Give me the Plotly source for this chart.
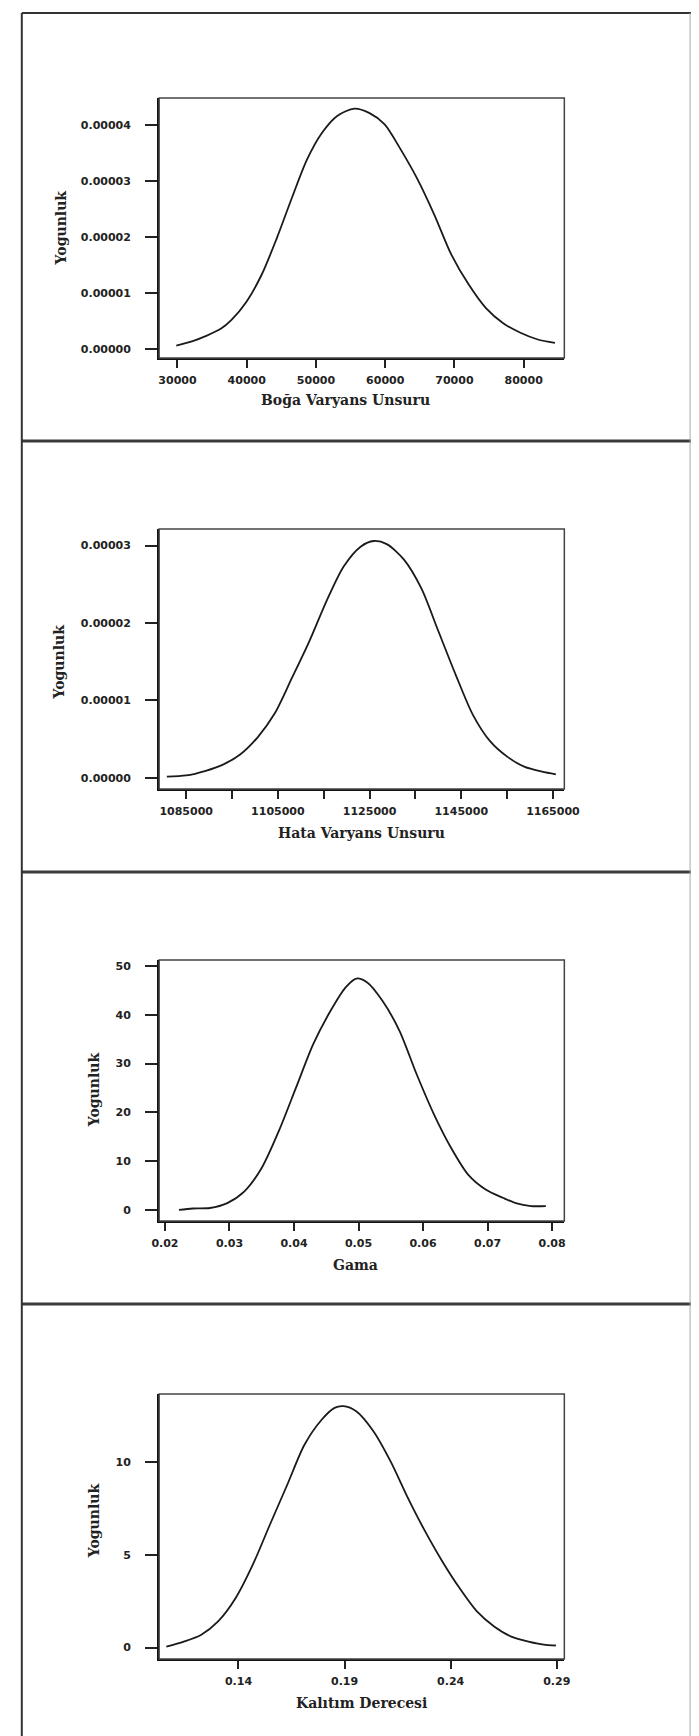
import plotly.graph_objects as go

W, H = 699, 1736

# ---- data ----
boga_x = [29830, 32200, 34060, 36250, 37800, 39990, 42170, 44350, 46530, 48700, 50880, 53060,
          55560, 57740, 59920, 62100, 64580, 67080, 69570, 72060, 74550, 77040, 79530, 82030, 84510]
boga_y = [0.06e-5, 0.14e-5, 0.23e-5, 0.36e-5, 0.52e-5, 0.85e-5, 1.33e-5, 1.98e-5, 2.70e-5, 3.38e-5,
          3.86e-5, 4.16e-5, 4.29e-5, 4.21e-5, 4.01e-5, 3.59e-5, 3.05e-5, 2.40e-5, 1.68e-5, 1.15e-5,
          0.73e-5, 0.46e-5, 0.29e-5, 0.17e-5, 0.11e-5]

hata_x = [1080780, 1085000, 1089260, 1093020, 1096770, 1100550, 1104300, 1108070, 1111830, 1115590,
          1119350, 1123120, 1125930, 1128750, 1132510, 1136280, 1140040, 1143800, 1147570, 1151330,
          1155090, 1158860, 1162620, 1165640]
hata_y = [0.015e-5, 0.03e-5, 0.09e-5, 0.17e-5, 0.30e-5, 0.52e-5, 0.83e-5, 1.29e-5, 1.76e-5, 2.28e-5,
          2.73e-5, 2.99e-5, 3.06e-5, 3.02e-5, 2.82e-5, 2.45e-5, 1.89e-5, 1.33e-5, 0.81e-5, 0.47e-5,
          0.27e-5, 0.14e-5, 0.08e-5, 0.045e-5]

gama_x = [0.02217, 0.02431, 0.02698, 0.02966, 0.03232, 0.03499, 0.03766, 0.04033, 0.04300, 0.04567,
          0.04800, 0.04967, 0.05135, 0.05368, 0.05635, 0.05901, 0.06169, 0.06436, 0.06702, 0.06970,
          0.07237, 0.07437, 0.07671, 0.07904]
gama_y = [0, 0.3, 0.4, 1.4, 3.8, 8.6, 16.2, 25.1, 34.0, 40.8, 45.6, 47.4, 46.6, 42.9, 36.7, 27.8,
          19.6, 12.7, 7.2, 4.2, 2.5, 1.4, 0.8, 0.8]

kalitim_x = [0.1060, 0.1142, 0.1223, 0.1304, 0.1386, 0.1467, 0.1548, 0.1630, 0.1711, 0.1792, 0.1853,
             0.1894, 0.1955, 0.2036, 0.2117, 0.2199, 0.2280, 0.2361, 0.2442, 0.2524, 0.2605, 0.2686,
             0.2767, 0.2849, 0.2896]
kalitim_y = [0.05, 0.32, 0.68, 1.41, 2.66, 4.46, 6.63, 8.79, 10.95, 12.30, 12.94, 13.03, 12.76, 11.68,
             10.05, 8.07, 6.27, 4.65, 3.21, 1.95, 1.14, 0.59, 0.32, 0.14, 0.11]

# tick values / labels
p1_xticks = [30000, 40000, 50000, 60000, 70000, 80000]
p1_xlabels = ["30000", "40000", "50000", "60000", "70000", "80000"]
p1_yticks = [0, 1e-5, 2e-5, 3e-5, 4e-5]
p1_ylabels = ["0.00000", "0.00001", "0.00002", "0.00003", "0.00004"]

p2_xticks = [1085000, 1095000, 1105000, 1115000, 1125000, 1135000, 1145000, 1155000, 1165000]
p2_xlabels = ["1085000", "", "1105000", "", "1125000", "", "1145000", "", "1165000"]
p2_yticks = [0, 1e-5, 2e-5, 3e-5]
p2_ylabels = ["0.00000", "0.00001", "0.00002", "0.00003"]

p3_xticks = [0.02, 0.03, 0.04, 0.05, 0.06, 0.07, 0.08]
p3_xlabels = ["0.02", "0.03", "0.04", "0.05", "0.06", "0.07", "0.08"]
p3_yticks = [0, 10, 20, 30, 40, 50]
p3_ylabels = ["0", "10", "20", "30", "40", "50"]

p4_xticks = [0.14, 0.19, 0.24, 0.29]
p4_xlabels = ["0.14", "0.19", "0.24", "0.29"]
p4_yticks = [0, 5, 10]
p4_ylabels = ["0", "5", "10"]

x_titles = ["Boğa Varyans Unsuru", "Hata Varyans Unsuru", "Gama", "Kalıtım Derecesi"]
y_title = "Yogunluk"

# ---- layout geometry (pixels) ----
box_left, box_right = 148, 567
boxes = [(90, 350), (521, 781), (952, 1213), (1386, 1651)]
ranges = [
    ([27350, 85870], [-0.16e-5, 4.48e-5]),
    ([1079100, 1167490], [-0.145e-5, 3.215e-5]),
    ([0.0191, 0.0819], [-2.26, 51.2]),
    ([0.1026, 0.2936], [-0.62, 13.69]),
]
xtitle_pos = [(341, 392), (357, 825), (351, 1257), (357, 1695)]
ytitle_pos = [(47, 220), (44, 654), (81, 1082), (81, 1513)]

series = [(boga_x, boga_y), (hata_x, hata_y), (gama_x, gama_y), (kalitim_x, kalitim_y)]
ticks = [(p1_xticks, p1_xlabels, p1_yticks, p1_ylabels),
         (p2_xticks, p2_xlabels, p2_yticks, p2_ylabels),
         (p3_xticks, p3_xlabels, p3_yticks, p3_ylabels),
         (p4_xticks, p4_xlabels, p4_yticks, p4_ylabels)]

tick_font = dict(family="DejaVu Sans", size=11, color="#222", weight="bold")
title_font = dict(family="DejaVu Serif", size=14, color="#222", weight="bold")

fig = go.Figure()
layout = dict(width=W, height=H, margin=dict(l=0, r=0, t=0, b=0),
              paper_bgcolor="white", plot_bgcolor="white", showlegend=False)
shapes = []
annotations = []

for i in range(4):
    n = "" if i == 0 else str(i + 1)
    xs, ys = series[i]
    fig.add_trace(go.Scatter(x=xs, y=ys, mode="lines", xaxis="x" + n, yaxis="y" + n,
                             line=dict(color="#1a1a1a", width=1.8, shape="spline", smoothing=0.8),
                             hoverinfo="skip"))
    top, bot = boxes[i]
    xt, xl, yt, yl = ticks[i]
    layout["xaxis" + n] = dict(
        domain=[box_left / W, box_right / W], range=ranges[i][0], anchor="y" + n,
        showgrid=False, zeroline=False, showline=True, linecolor="#111", linewidth=2,
        ticks="outside", ticklen=8, tickwidth=2, tickcolor="#222",
        tickvals=xt, ticktext=xl, tickfont=tick_font, ticklabelstandoff=3, fixedrange=True)
    layout["yaxis" + n] = dict(
        domain=[1 - bot / H, 1 - top / H], range=ranges[i][1], anchor="x" + n,
        showgrid=False, zeroline=False, showline=True, linecolor="#111", linewidth=2,
        ticks="outside", ticklen=12, tickwidth=2, tickcolor="#222",
        tickvals=yt, ticktext=yl, tickfont=tick_font, ticklabelstandoff=12, fixedrange=True)
    # plot box
    shapes.append(dict(type="rect", xref=("x" + n + " domain"), yref=("y" + n + " domain"),
                       x0=0, x1=1, y0=0, y1=1, line=dict(color="#444", width=1.5)))
    tx, ty = xtitle_pos[i]
    annotations.append(dict(text=x_titles[i], xref="paper", yref="paper", x=tx / W, y=1 - ty / H,
                            xanchor="center", yanchor="middle", showarrow=False, font=title_font))
    yx, yy = ytitle_pos[i]
    annotations.append(dict(text=y_title, xref="paper", yref="paper", x=yx / W, y=1 - yy / H,
                            xanchor="center", yanchor="middle", showarrow=False, textangle=-90,
                            font=title_font))

# outer frame and panel separators
def hline(ypx, w, c):
    return dict(type="line", xref="paper", yref="paper", x0=6 / W, x1=1, y0=1 - ypx / H, y1=1 - ypx / H,
                line=dict(color=c, width=w))

shapes.append(hline(5, 2, "#333"))
for s in [433, 864, 1296]:
    shapes.append(hline(s, 3, "#3a3a3a"))
shapes.append(hline(1733, 2, "#333"))
shapes.append(dict(type="line", xref="paper", yref="paper", x0=6 / W, x1=6 / W, y0=1 - 1733 / H, y1=1 - 5 / H,
                   line=dict(color="#333", width=2)))
shapes.append(dict(type="line", xref="paper", yref="paper", x0=697 / W, x1=697 / W, y0=1 - 1733 / H, y1=1 - 5 / H,
                   line=dict(color="#aaa", width=1)))

layout["shapes"] = shapes
layout["annotations"] = annotations
fig.update_layout(**layout)
fig.write_html("out.html", config={"displayModeBar": False})
